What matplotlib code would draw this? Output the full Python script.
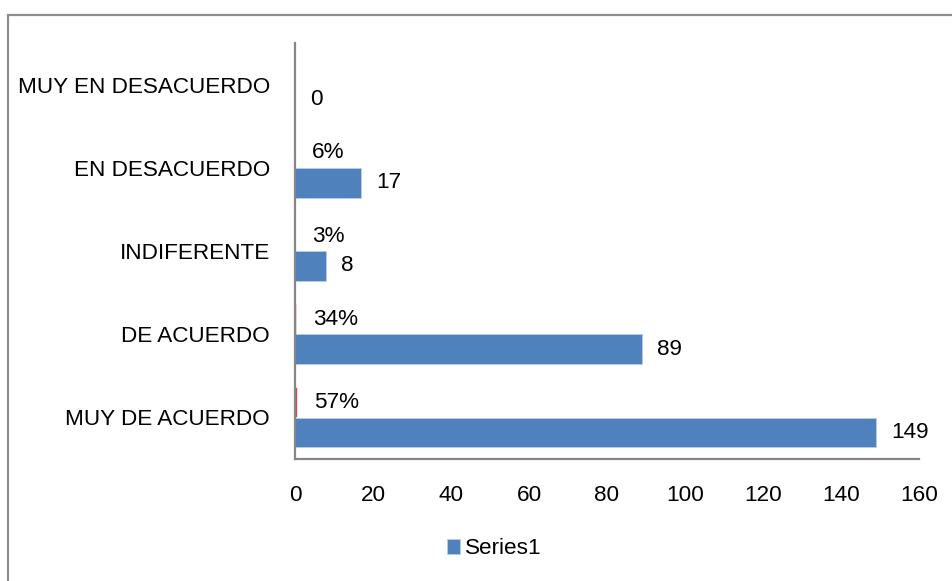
import matplotlib
matplotlib.use("Agg")
import matplotlib.pyplot as plt
from matplotlib.patches import Rectangle

categories = ["MUY DE ACUERDO", "DE ACUERDO", "INDIFERENTE", "EN DESACUERDO", "MUY EN DESACUERDO"]
counts = [149, 89, 8, 17, 0]
shares = [0.57, 0.34, 0.03, 0.06, 0.0]
share_labels = ["57%", "34%", "3%", "6%", ""]
count_labels = ["149", "89", "8", "17", "0"]
xticks = [0, 20, 40, 60, 80, 100, 120, 140, 160]

plt.rcParams['font.family'] = ['Liberation Sans', 'DejaVu Sans']

W, H = 952, 581
fig = plt.figure(figsize=(W / 100, H / 100), dpi=100)
ax = fig.add_axes([295 / W, 1 - 459 / H, (919 - 295) / W, (459 - 43) / H])

ypos = list(range(len(categories)))
bh = 0.355
off = 0.18
blue = "#4F81BD"
red = "#C0504D"
ax.barh([y - off for y in ypos], counts, height=bh, color=blue, edgecolor="#b9cde5", linewidth=0.6, label="Series1", zorder=2)
ax.barh([y + off for y in ypos], shares, height=bh, color=red, edgecolor=red, linewidth=0.3, label="_Series2", zorder=2)

fs = 16.2
for y, v, t in zip(ypos, counts, count_labels):
    ax.annotate(t, (v, y - off), xytext=(15, 0), textcoords="offset pixels",
                ha="left", va="center", fontsize=fs, color="#000000")
for y, v, t in zip(ypos, shares, share_labels):
    if t:
        ax.annotate(t, (v, y + off), xytext=(17, 0), textcoords="offset pixels",
                    ha="left", va="center", fontsize=fs, color="#000000")

ax.set_xlim(0, 160)
ax.set_ylim(-0.5, len(categories) - 0.5)
ax.set_xticks(xticks)
ax.set_xticklabels([str(x) for x in xticks], fontsize=fs)
ax.set_yticks(ypos)
ax.set_yticklabels(categories, fontsize=fs)
ax.tick_params(axis="both", length=0)
ax.tick_params(axis="x", pad=19)
ax.tick_params(axis="y", pad=18)
for s in ["top", "right"]:
    ax.spines[s].set_visible(False)
for s in ["left", "bottom"]:
    ax.spines[s].set_color("#868686")
    ax.spines[s].set_linewidth(1.6)

handles, labels = ax.get_legend_handles_labels()
fig.legend(handles, labels, loc="center", bbox_to_anchor=(494 / W, 1 - 549 / H),
           frameon=False, fontsize=fs, handlelength=0.6, handleheight=0.6,
           handletextpad=0.2)

fig.patches.append(Rectangle((7.5 / W, 0 - 0.1), 1.2, 1 - 15 / H + 0.1,
                             transform=fig.transFigure, fill=False,
                             edgecolor="#8c8c8c", linewidth=1.6))

fig.savefig("out.png", dpi=100)
